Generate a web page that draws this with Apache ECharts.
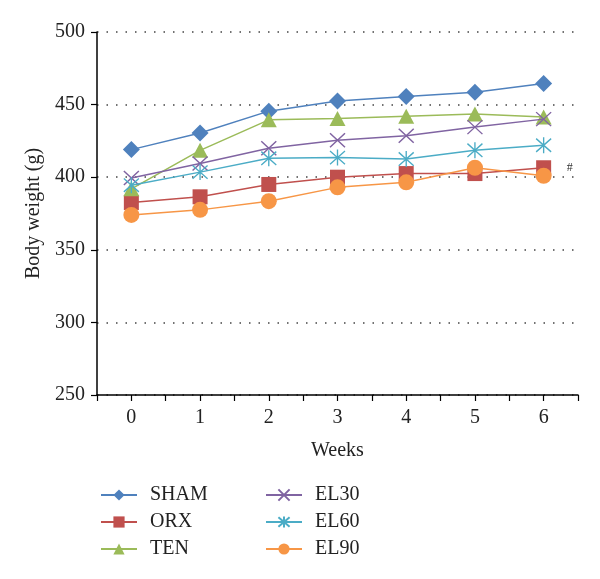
<!DOCTYPE html>
<html>
<head>
<meta charset="utf-8">
<script src="https://cdn.jsdelivr.net/npm/echarts@6/dist/echarts.min.js"></script>
<style>html,body{margin:0;padding:0;background:#fff}#c{width:600px;height:579px}</style>
</head>
<body>
<div id="c"></div>
<script>
const weeks = [0, 1, 2, 3, 4, 5, 6];
const yTicks = [250, 300, 350, 400, 450, 500];
const seriesNames = ['SHAM', 'ORX', 'TEN', 'EL30', 'EL60', 'EL90'];
const sham = [419, 430.5, 445.5, 452.5, 455.5, 458.5, 464.5];
const orx = [382.5, 386.5, 395, 400, 402.5, 402.5, 406.5];
const ten = [392, 418.5, 439.5, 440.5, 442, 443.5, 441.5];
const el30 = [399.5, 409.5, 420, 425.5, 428.5, 434.5, 440];
const el60 = [394.5, 403.5, 413, 413.5, 412.5, 418.5, 422];
const el90 = [374, 377.5, 383.5, 393, 396.5, 406.5, 401];
const annotationText = '#';

const FONT = 'Liberation Serif';
const colors = ['#4F81BD', '#C0504D', '#9BBB59', '#8064A2', '#4BACC6', '#F79646'];
const values = [sham, orx, ten, el30, el60, el90];
const symbols = [
  'diamond',
  'rect',
  'triangle',
  'path://M0,0L10,10M10,0L0,10',
  'path://M0,0L10,10M10,0L0,10M5,-1L5,11',
  'circle'
];
const sizes = [[17, 17], [15, 15], [16, 15], [15, 14], [15, 16], [16, 16]];
const stroked = [false, false, false, true, true, false];

const series = seriesNames.map((n, i) => {
  const s = {
    name: n,
    type: 'line',
    data: weeks.map((w, j) => [w, values[i][j]]),
    symbol: symbols[i],
    symbolSize: sizes[i],
    lineStyle: { color: colors[i], width: 1.5 },
    itemStyle: stroked[i]
      ? { color: 'rgba(0,0,0,0)', borderColor: colors[i], borderWidth: 1.4 }
      : { color: colors[i], borderWidth: 0 },
    emphasis: { disabled: true },
    animation: false,
    z: 2 + i
  };
  if (i === 1) {
    s.markPoint = {
      symbol: 'rect', symbolSize: 1,
      itemStyle: { color: 'rgba(0,0,0,0)' },
      label: { show: true, formatter: annotationText, color: '#333', fontSize: 12, fontFamily: FONT, offset: [26, 0] },
      data: [{ coord: [weeks[6], orx[6]] }]
    };
  }
  return s;
});

const legendCommon = {
  orient: 'vertical', top: 485, padding: 0,
  itemWidth: 36, itemHeight: 14, itemGap: 7,
  textStyle: { fontFamily: FONT, fontSize: 20, color: '#222', padding: [0, 0, 0, 8] }
};

const chart = echarts.init(document.getElementById('c'));
chart.setOption({
  animation: false,
  backgroundColor: '#fff',
  grid: { left: 97, right: 22, top: 32, bottom: 184 },
  xAxis: {
    type: 'value', min: -0.5, max: 6.5, interval: 0.5,
    name: 'Weeks', nameLocation: 'middle', nameGap: 46,
    nameTextStyle: { fontFamily: FONT, fontSize: 20, color: '#222' },
    axisLine: { onZero: false, lineStyle: { color: '#000', width: 1.5 } },
    axisTick: { show: true, inside: false, length: 6, lineStyle: { color: '#000', width: 1.2 } },
    axisLabel: {
      fontFamily: FONT, fontSize: 20, color: '#222', margin: 13,
      formatter: v => (Number.isInteger(v) && weeks.indexOf(v) >= 0) ? String(v) : ''
    },
    splitLine: { show: false }
  },
  yAxis: {
    type: 'value', min: yTicks[0], max: yTicks[yTicks.length - 1], interval: 50,
    name: 'Body weight (g)', nameLocation: 'middle', nameGap: 43, nameRotate: 90,
    nameTextStyle: { fontFamily: FONT, fontSize: 20, color: '#222' },
    axisLine: { show: true, onZero: false, lineStyle: { color: '#000', width: 1.5 } },
    axisTick: { show: true, inside: false, length: 6, lineStyle: { color: '#000', width: 1.2 } },
    axisLabel: { fontFamily: FONT, fontSize: 20, color: '#222', margin: 12 },
    splitLine: { show: true, lineStyle: { color: '#444', width: 1.5, type: [1.5, 8] } }
  },
  legend: [
    Object.assign({ data: seriesNames.slice(0, 3), left: 100 }, legendCommon),
    Object.assign({ data: seriesNames.slice(3), left: 265 }, legendCommon)
  ],
  series: series
});
</script>
</body>
</html>
